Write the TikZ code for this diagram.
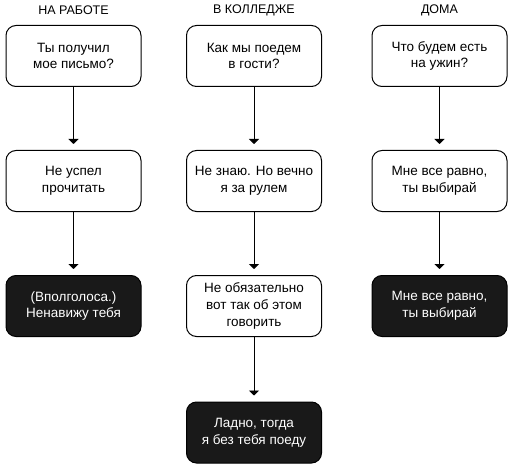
\documentclass[tikz,border=0pt]{standalone}
\usepackage{fontspec}
\setmainfont{Liberation Sans}
\usepackage{tikz}
\usetikzlibrary{arrows.meta}
\usetikzlibrary{shapes,positioning,calc}

\tikzset{
	msg/.style={draw, line width=1pt, rounded corners=10pt, align=center,
		minimum width=135pt, minimum height=61pt, inner sep=2pt,
		font=\fontsize{13.5}{16.7}\selectfont},
	msgdark/.style={msg, fill=black!90, text=white},
	head/.style={font=\fontsize{12.5}{15}\selectfont},
	flow/.style={-{Triangle[width=10pt,length=5pt]}, line width=0.9pt, shorten >=6pt}
}

\begin{document}
\begin{tikzpicture}[x=1pt, y=-1pt]
			\useasboundingbox (0,0) rectangle (514,468);
			% заголовки
			\node[head] (hw) at (73.5,10.5) {НА РАБОТЕ};
			\node[head] (hc) at (254,10.5) {В КОЛЛЕДЖЕ};
			\node[head] (hh) at (439.5,10.5) {ДОМА};
			% на работе
			\node[msg] (w1) at (73.5,56) {Ты получил\\мое письмо?};
			\node[msg] (w2) at (73.5,181) {Не успел\\прочитать};
			\node[msgdark] (w3) at (73.5,306) {(Вполголоса.)\\Ненавижу тебя};
			% в колледже
			\node[msg] (c1) at (254,56) {Как мы поедем\\в гости?};
			\node[msg] (c2) at (254,181) {Не знаю. Но вечно\\я за рулем};
			\node[msg] (c3) at (254,306) {Не обязательно\\вот так об этом\\говорить};
			\node[msgdark] (c4) at (254,432.5) {Ладно, тогда\\я без тебя поеду};
			% дома
			\node[msg] (h1) at (439.5,56) {Что будем есть\\на ужин?};
			\node[msg] (h2) at (439.5,181) {Мне все равно,\\ты выбирай};
			\node[msgdark] (h3) at (439.5,306) {Мне все равно,\\ты выбирай};
			% стрелки
			\draw[flow] (w1) -- (w2);
			\draw[flow] (w2) -- (w3);
			\draw[flow] (c1) -- (c2);
			\draw[flow] (c2) -- (c3);
			\draw[flow] (c3) -- (c4);
			\draw[flow] (h1) -- (h2);
			\draw[flow] (h2) -- (h3);
		\end{tikzpicture}
\end{document}
